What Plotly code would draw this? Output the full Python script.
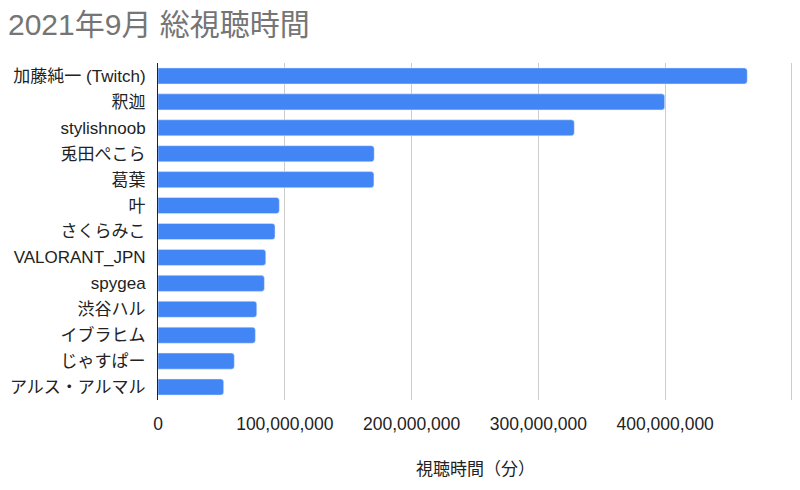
import plotly.graph_objects as go

names = ['加藤純一 (Twitch)', '釈迦', 'stylishnoob', '兎田ぺこら', '葛葉', '叶', 'さくらみこ',
         'VALORANT_JPN', 'spygea', '渋谷ハル', 'イブラヒム', 'じゃすぱー', 'アルス・アルマル']
minutes = [464700000, 399600000, 328300000, 170500000, 170300000, 95700000, 92300000,
           85000000, 83900000, 77900000, 76800000, 60200000, 51800000]
tick_vals = [0, 100000000, 200000000, 300000000, 400000000, 500000000]
tick_text = ['0', '100,000,000', '200,000,000', '300,000,000', '400,000,000', '']

font = '"Liberation Sans", Arial, "Noto Sans CJK JP", sans-serif'

fig = go.Figure(go.Bar(x=minutes, y=names, orientation='h', marker_color='#4285f4'))

# page body has an 8px margin, so the figure is offset by 8px
fig.update_layout(
    width=792, height=482,
    margin=dict(l=150, r=7, t=55, b=90),
    paper_bgcolor='white', plot_bgcolor='white',
    font=dict(family=font, size=17, color='#222222'),
    title=dict(text='2021年9月 総視聴時間', x=0.0, xanchor='left', y=0.966, yanchor='middle',
               font=dict(family=font, size=30, color='#757575')),
    bargap=0.38,
    barcornerradius=3,
    showlegend=False,
)
fig.update_xaxes(
    range=[0, 500800000], tickvals=tick_vals, ticktext=tick_text,
    showgrid=True, gridcolor='#cccccc', gridwidth=1, zeroline=False,
    title=dict(text='視聴時間（分）', font=dict(size=17, color='#222222'), standoff=30),
    tickfont=dict(size=17.5), ticklabelstandoff=11, automargin=False,
)
fig.update_yaxes(
    autorange='reversed', showline=True, linecolor='#222222', linewidth=1,
    showgrid=False, tickfont=dict(size=17), ticklabelstandoff=8, automargin=False,
)

fig.write_html("out.html")
